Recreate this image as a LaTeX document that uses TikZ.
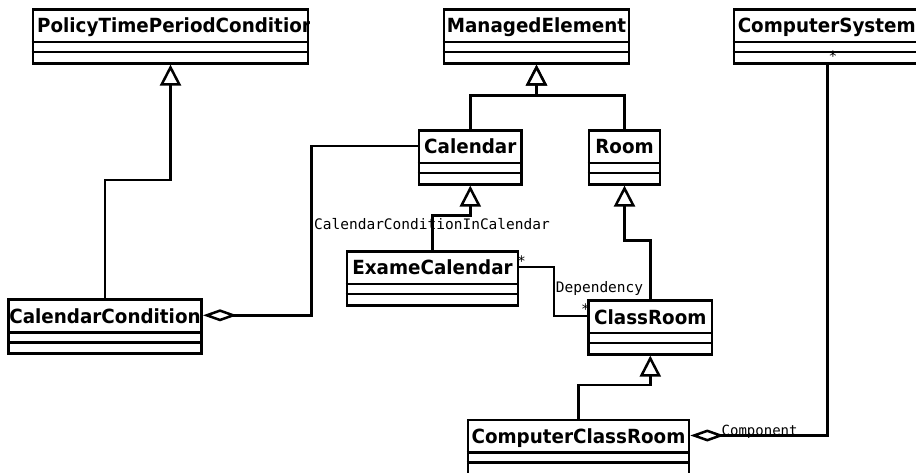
\documentclass[tikz,border=0pt]{standalone}
\usepackage{fontspec}
\setmainfont{DejaVu Sans}
\newfontfamily\classfont[FakeStretch=0.94]{DejaVu Sans}
\newfontfamily\monofont{DejaVu Sans Mono}
\usetikzlibrary{arrows.meta}

\tikzset{
  classbox/.style={draw, line width=2.6pt, fill=white, minimum height=54pt, inner sep=0pt},
  compline/.style={line width=2.6pt},
  classname/.style={font=\classfont\fontsize{19.5}{21}\selectfont\bfseries, inner sep=0pt},
  conn/.style={line width=2.5pt},
  inherit/.style={conn, -{Triangle[length=21pt, width=21pt, fill=white]}},
  aggr/.style={conn, -{Diamond[length=34pt, width=12pt, fill=white]}},
  rolelabel/.style={font=\monofont\fontsize{14.5}{16}\selectfont, inner sep=0pt},
}

% class box: name, centre x, top y, width, title, title x offset
\newcommand\umlclass[6]{%
  \node[classbox, minimum width=#4pt, anchor=north] (#1) at (#2,#3) {};
  \draw[compline] ([yshift=-34pt]#1.north west) -- ([yshift=-34pt]#1.north east);
  \draw[compline] ([yshift=-44pt]#1.north west) -- ([yshift=-44pt]#1.north east);
  \begin{scope}
    \clip (#1.north west) rectangle ([yshift=-34pt]#1.north east);
    \node[classname, anchor=base] (#1-title) at ([shift={(#6pt,-25pt)}]#1.north) {#5};
  \end{scope}
}

\begin{document}
\begin{tikzpicture}[x=1pt, y=-1pt]
  \useasboundingbox (0,0) rectangle (916,473);

  % classes
  \umlclass{ptpc}{170.5}{8}{275}{PolicyTimePeriodCondition}{5.5}
  \umlclass{managed}{536.5}{8}{185}{ManagedElement}{0}
  \umlclass{compsys}{827.5}{8}{187}{ComputerSystem}{-0.8}
  \umlclass{cal}{470.3}{129}{102.7}{Calendar}{0}
  \umlclass{room}{624.5}{129}{71}{Room}{0}
  \umlclass{exame}{432.5}{250}{171}{ExameCalendar}{0}
  \umlclass{calcond}{105}{298.3}{193.4}{CalendarCondition}{0}
  \umlclass{classroom}{650.3}{299}{123.3}{ClassRoom}{0}
  \umlclass{ccr}{578.5}{418.5}{221}{ComputerClassRoom}{0}

  % generalisations
  \draw[inherit] (calcond.north) -- ++(0,118.3pt) -| (ptpc.south);
  \draw[inherit] (cal.north) -- ++(0,33.3pt) -| (managed.south);
  \draw[inherit] (room.north) -- ++(0,33.3pt) -| (managed.south);
  \draw[inherit] (exame.north) -- ++(0,34.3pt) -| (cal.south);
  \draw[inherit] (classroom.north) -- ++(0,58.3pt) -| (room.south);
  \draw[inherit] (ccr.north) -- ++(0,33.3pt) -| (classroom.south);

  % aggregation CalendarCondition -- Calendar
  \coordinate (calbend) at (311.7,146);
  \draw[aggr] ([yshift=-17pt]cal.north west) -- (calbend) |- ([yshift=-17pt]calcond.north east);
  \node[rolelabel, anchor=base] (lblcc) at (432,230) {CalendarConditionInCalendar};

  % dependency ExameCalendar -- ClassRoom
  \coordinate (depbend) at (554,267);
  \draw[conn] ([yshift=-17pt]exame.north east) -- (depbend) |- ([yshift=-17pt]classroom.north west);
  \node[rolelabel, anchor=base] (lbldep) at (599.5,292) {Dependency};
  \node[rolelabel] (mexame) at (521.5,261) {*};
  \node[rolelabel] (mclass) at (585.5,309) {*};

  % component ComputerSystem -- ComputerClassRoom
  \draw[aggr] (compsys.south) |- ([yshift=-17pt]ccr.north east);
  \node[rolelabel, anchor=base west, font=\monofont\fontsize{14}{16}\selectfont] (lblcomp) at (721.5,435.5) {Component};
  \node[rolelabel] (mcomp) at (833,56) {*};
\end{tikzpicture}
\end{document}
